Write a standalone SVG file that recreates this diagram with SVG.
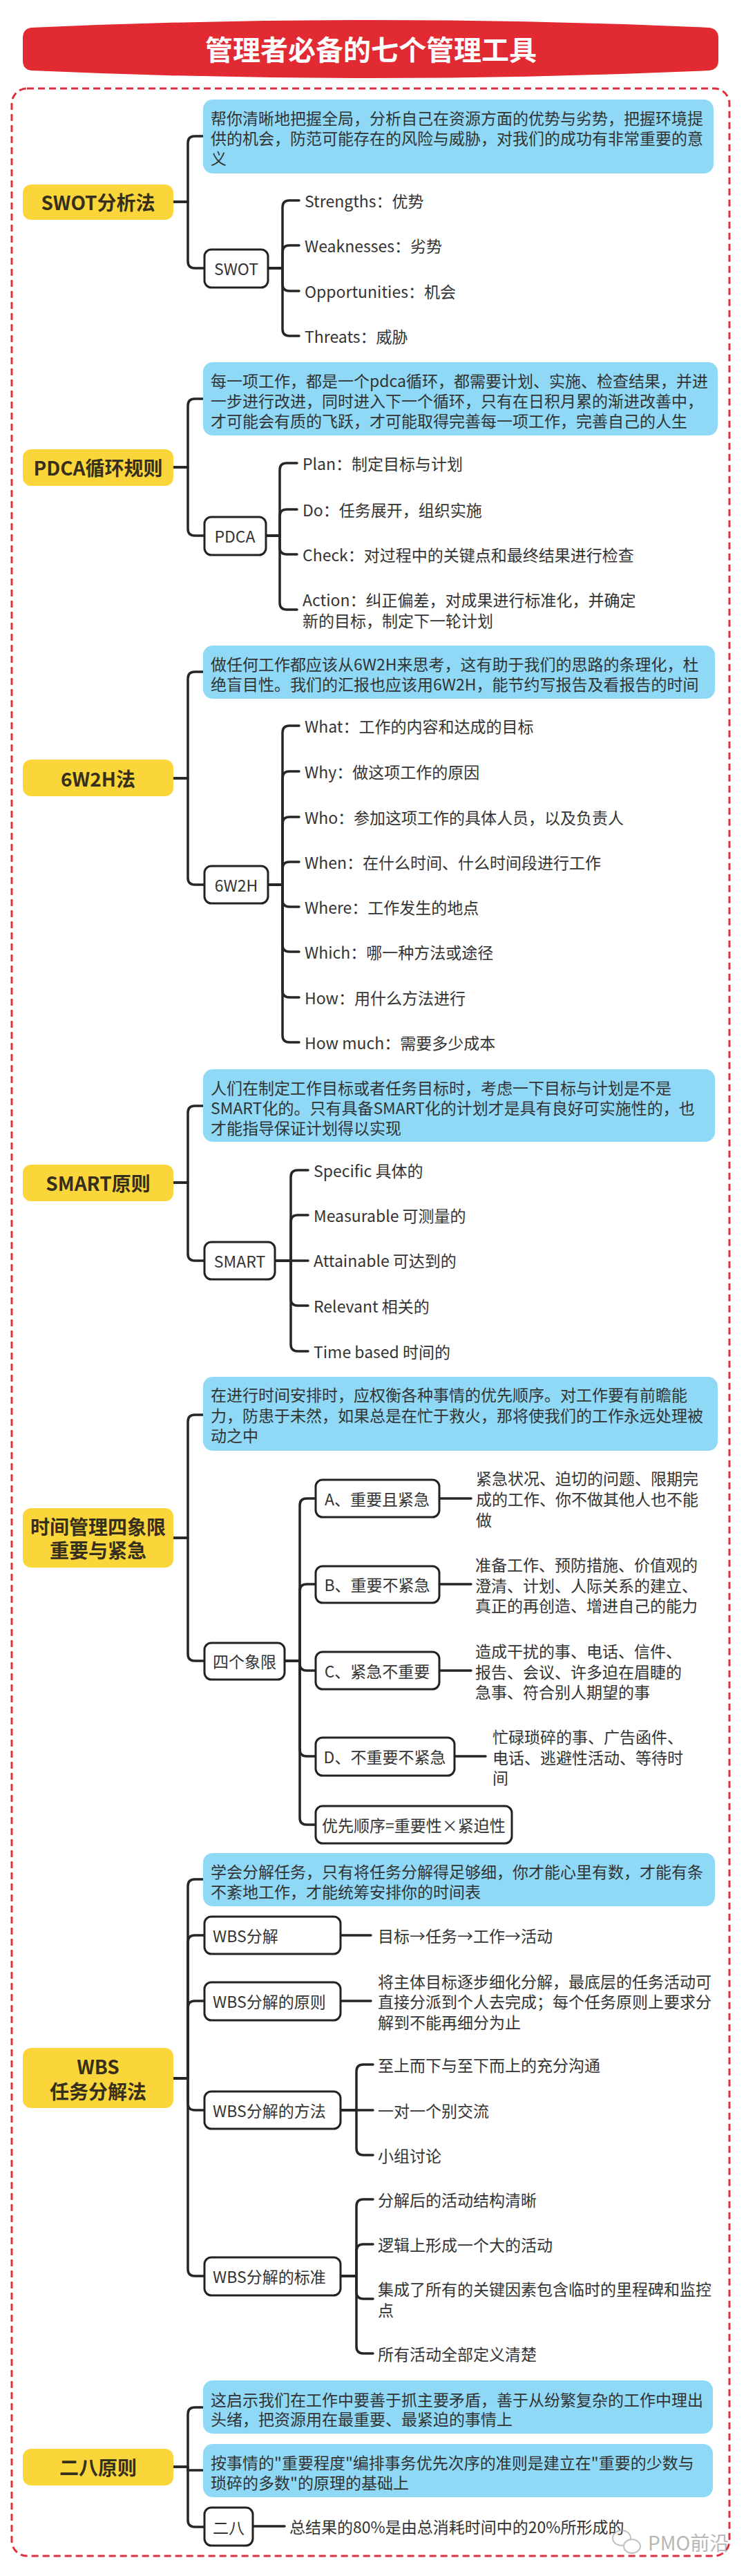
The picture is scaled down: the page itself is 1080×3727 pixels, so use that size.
<svg xmlns="http://www.w3.org/2000/svg" width="1080" height="3727" viewBox="0 0 1080 3727">
<style>
text{font-family:"Noto Sans CJK SC","Noto Sans",sans-serif;fill:#333;dominant-baseline:central}
.t{font-size:23px}
.y{fill:#fbd63b}
.yt{font-size:28px;font-weight:bold;fill:#352f1c;text-anchor:middle}
.b{fill:#8fd9f6}
.w{fill:#fff;stroke:#222;stroke-width:3}
.c{fill:none;stroke:#262626;stroke-width:3.5;stroke-linecap:round;stroke-linejoin:round}
.m{text-anchor:middle}
</style>
<rect width="1080" height="3727" fill="#fff"/>
<g id="title">
<path d="M45,40 Q540,18 1027,40 Q1040,42 1040,55 L1040,88 Q1040,100 1027,102 Q540,124 45,102 Q33,100 33,88 L33,55 Q33,42 45,40 Z" fill="#e12a31"/>
<text x="537" y="70" style="font-size:40px;font-weight:bold;fill:#fff;text-anchor:middle">管理者必备的七个管理工具</text>
</g>
<rect id="frame" x="17" y="128" width="1039" height="3570" rx="22" fill="none" stroke="#e0303c" stroke-width="3" stroke-dasharray="10 6"/>

<g id="connectors">
<path class="c" d="M251,292 H272 V207 Q272,197 282,197 H294"/>
<path class="c" d="M251,292 H272 V378 Q272,388 282,388 H296"/>
<path class="c" d="M388,388 H409 V300 Q409,290 419,290 H433"/>
<path class="c" d="M388,388 H409 V365 Q409,355 419,355 H433"/>
<path class="c" d="M388,388 H409 V411 Q409,421 419,421 H433"/>
<path class="c" d="M388,388 H409 V476 Q409,486 419,486 H433"/>

<path class="c" d="M251,676 H272 V587 Q272,577 282,577 H294"/>
<path class="c" d="M251,676 H272 V765 Q272,775 282,775 H296"/>
<path class="c" d="M385,775 H405 V680 Q405,670 415,670 H430"/>
<path class="c" d="M385,775 H405 V747 Q405,737 415,737 H430"/>
<path class="c" d="M385,775 H405 V792 Q405,802 415,802 H430"/>
<path class="c" d="M385,775 H405 V872 Q405,882 415,882 H430"/>

<path class="c" d="M251,1126 H272 V982 Q272,972 282,972 H294"/>
<path class="c" d="M251,1126 H272 V1270 Q272,1280 282,1280 H296"/>
<path class="c" d="M388,1280 H409 V1060 Q409,1050 419,1050 H433"/>
<path class="c" d="M388,1280 H409 V1126 Q409,1116 419,1116 H433"/>
<path class="c" d="M388,1280 H409 V1192 Q409,1182 419,1182 H433"/>
<path class="c" d="M388,1280 H409 V1257 Q409,1247 419,1247 H433"/>
<path class="c" d="M388,1280 H409 V1302 Q409,1312 419,1312 H433"/>
<path class="c" d="M388,1280 H409 V1367 Q409,1377 419,1377 H433"/>
<path class="c" d="M388,1280 H409 V1433 Q409,1443 419,1443 H433"/>
<path class="c" d="M388,1280 H409 V1498 Q409,1508 419,1508 H433"/>

<path class="c" d="M251,1711 H272 V1610 Q272,1600 282,1600 H294"/>
<path class="c" d="M251,1711 H272 V1814 Q272,1824 282,1824 H296"/>
<path class="c" d="M398,1824 H421 V1703 Q421,1693 431,1693 H446"/>
<path class="c" d="M398,1824 H421 V1768 Q421,1758 431,1758 H446"/>
<path class="c" d="M398,1824 H446"/>
<path class="c" d="M398,1824 H421 V1879 Q421,1889 431,1889 H446"/>
<path class="c" d="M398,1824 H421 V1945 Q421,1955 431,1955 H446"/>

<path class="c" d="M251,2225 H272 V2057 Q272,2047 282,2047 H294"/>
<path class="c" d="M251,2225 H272 V2393 Q272,2403 282,2403 H296"/>
<path class="c" d="M412,2403 H434 V2178 Q434,2168 444,2168 H457"/>
<path class="c" d="M412,2403 H434 V2302 Q434,2292 444,2292 H457"/>
<path class="c" d="M412,2403 H434 V2407 Q434,2417 444,2417 H457"/>
<path class="c" d="M412,2403 H434 V2531 Q434,2541 444,2541 H457"/>
<path class="c" d="M412,2403 H434 V2630 Q434,2640 444,2640 H457"/>
<path class="c" d="M636,2168 H682"/>
<path class="c" d="M636,2292 H682"/>
<path class="c" d="M636,2417 H682"/>
<path class="c" d="M658,2541 H703"/>

<path class="c" d="M251,3007 H272 V2729 Q272,2719 282,2719 H294"/>
<path class="c" d="M251,3007 H272 V2810 Q272,2800 282,2800 H296"/>
<path class="c" d="M251,3007 H272 V2905 Q272,2895 282,2895 H296"/>
<path class="c" d="M251,3007 H272 V3043 Q272,3053 282,3053 H296"/>
<path class="c" d="M251,3007 H272 V3283 Q272,3293 282,3293 H296"/>
<path class="c" d="M493,2800 H537"/>
<path class="c" d="M493,2895 H537"/>
<path class="c" d="M493,3053 H516 V2997 Q516,2987 526,2987 H540"/>
<path class="c" d="M493,3053 H540"/>
<path class="c" d="M493,3053 H516 V3108 Q516,3118 526,3118 H540"/>
<path class="c" d="M493,3293 H516 V3192 Q516,3182 526,3182 H540"/>
<path class="c" d="M493,3293 H516 V3257 Q516,3247 526,3247 H540"/>
<path class="c" d="M493,3293 H516 V3316 Q516,3326 526,3326 H540"/>
<path class="c" d="M493,3293 H516 V3395 Q516,3405 526,3405 H540"/>

<path class="c" d="M251,3569 H272 V3493 Q272,3483 282,3483 H294"/>
<path class="c" d="M272,3569 V3574 H294"/>
<path class="c" d="M251,3569 H272 V3646 Q272,3656 282,3656 H296"/>
<path class="c" d="M366,3655 H412"/>
</g>

<!-- Section 1 -->
<g id="swot-main"><rect class="y" x="33" y="267" width="218" height="51" rx="12"/><text class="yt" x="142" y="292">SWOT分析法</text></g>
<g id="swot-desc"><rect class="b" x="294" y="144" width="739" height="107" rx="14"/>
<text class="t" x="305" y="170">帮你清晰地把握全局，分析自己在资源方面的优势与劣势，把握环境提</text>
<text class="t" x="305" y="199">供的机会，防范可能存在的风险与威胁，对我们的成功有非常重要的意</text>
<text class="t" x="305" y="228">义</text></g>
<g id="swot-node"><rect class="w" x="296" y="361" width="92" height="55" rx="10"/><text class="t m" x="342" y="388">SWOT</text></g>
<g id="swot-s"><text class="t" x="441" y="290">Strengths：优势</text></g>
<g id="swot-w"><text class="t" x="441" y="355">Weaknesses：劣势</text></g>
<g id="swot-o"><text class="t" x="441" y="421">Opportunities：机会</text></g>
<g id="swot-t"><text class="t" x="441" y="486">Threats：威胁</text></g>

<!-- Section 2 -->
<g id="pdca-main"><rect class="y" x="33" y="650" width="218" height="53" rx="12"/><text class="yt" x="142" y="676">PDCA循环规则</text></g>
<g id="pdca-desc"><rect class="b" x="294" y="524" width="745" height="106" rx="14"/>
<text class="t" x="305" y="550">每一项工作，都是一个pdca循环，都需要计划、实施、检查结果，并进</text>
<text class="t" x="305" y="579">一步进行改进，同时进入下一个循环，只有在日积月累的渐进改善中，</text>
<text class="t" x="305" y="608">才可能会有质的飞跃，才可能取得完善每一项工作，完善自己的人生</text></g>
<g id="pdca-node"><rect class="w" x="296" y="748" width="89" height="55" rx="10"/><text class="t m" x="340" y="775">PDCA</text></g>
<g id="pdca-p"><text class="t" x="438" y="670">Plan：制定目标与计划</text></g>
<g id="pdca-d"><text class="t" x="438" y="737">Do：任务展开，组织实施</text></g>
<g id="pdca-c"><text class="t" x="438" y="802">Check：对过程中的关键点和最终结果进行检查</text></g>
<g id="pdca-a"><text class="t" x="438" y="867">Action：纠正偏差，对成果进行标准化，并确定</text><text class="t" x="438" y="897">新的目标，制定下一轮计划</text></g>

<!-- Section 3 -->
<g id="w6-main"><rect class="y" x="33" y="1099" width="218" height="53" rx="12"/><text class="yt" x="142" y="1126">6W2H法</text></g>
<g id="w6-desc"><rect class="b" x="294" y="934" width="741" height="77" rx="14"/>
<text class="t" x="305" y="960">做任何工作都应该从6W2H来思考，这有助于我们的思路的条理化，杜</text>
<text class="t" x="305" y="989">绝盲目性。我们的汇报也应该用6W2H，能节约写报告及看报告的时间</text></g>
<g id="w6-node"><rect class="w" x="296" y="1253" width="92" height="54" rx="10"/><text class="t m" x="342" y="1280">6W2H</text></g>
<g id="w6-1"><text class="t" x="441" y="1050">What：工作的内容和达成的目标</text></g>
<g id="w6-2"><text class="t" x="441" y="1116">Why：做这项工作的原因</text></g>
<g id="w6-3"><text class="t" x="441" y="1182">Who：参加这项工作的具体人员，以及负责人</text></g>
<g id="w6-4"><text class="t" x="441" y="1247">When：在什么时间、什么时间段进行工作</text></g>
<g id="w6-5"><text class="t" x="441" y="1312">Where：工作发生的地点</text></g>
<g id="w6-6"><text class="t" x="441" y="1377">Which：哪一种方法或途径</text></g>
<g id="w6-7"><text class="t" x="441" y="1443">How：用什么方法进行</text></g>
<g id="w6-8"><text class="t" x="441" y="1508">How much：需要多少成本</text></g>

<!-- Section 4 -->
<g id="smart-main"><rect class="y" x="33" y="1685" width="218" height="53" rx="12"/><text class="yt" x="142" y="1711">SMART原则</text></g>
<g id="smart-desc"><rect class="b" x="294" y="1547" width="741" height="105" rx="14"/>
<text class="t" x="305" y="1573">人们在制定工作目标或者任务目标时，考虑一下目标与计划是不是</text>
<text class="t" x="305" y="1602">SMART化的。只有具备SMART化的计划才是具有良好可实施性的，也</text>
<text class="t" x="305" y="1631">才能指导保证计划得以实现</text></g>
<g id="smart-node"><rect class="w" x="296" y="1797" width="102" height="54" rx="10"/><text class="t m" x="347" y="1824">SMART</text></g>
<g id="smart-s"><text class="t" x="454" y="1693">Specific 具体的</text></g>
<g id="smart-m"><text class="t" x="454" y="1758">Measurable 可测量的</text></g>
<g id="smart-a"><text class="t" x="454" y="1823">Attainable 可达到的</text></g>
<g id="smart-r"><text class="t" x="454" y="1889">Relevant 相关的</text></g>
<g id="smart-t"><text class="t" x="454" y="1955">Time based 时间的</text></g>

<!-- Section 5 -->
<g id="tm-main"><rect class="y" x="33" y="2182" width="218" height="86" rx="12"/><text class="yt" x="142" y="2208">时间管理四象限</text><text class="yt" x="142" y="2242">重要与紧急</text></g>
<g id="tm-desc"><rect class="b" x="294" y="1992" width="745" height="107" rx="14"/>
<text class="t" x="305" y="2017">在进行时间安排时，应权衡各种事情的优先顺序。对工作要有前瞻能</text>
<text class="t" x="305" y="2047">力，防患于未然，如果总是在忙于救火，那将使我们的工作永远处理被</text>
<text class="t" x="305" y="2076">动之中</text></g>
<g id="tm-node"><rect class="w" x="296" y="2377" width="116" height="53" rx="10"/><text class="t m" x="354" y="2403">四个象限</text></g>
<g id="tm-a"><rect class="w" x="457" y="2141" width="179" height="54" rx="10"/><text class="t m" x="546" y="2168">A、重要且紧急</text></g>
<g id="tm-a-d"><text class="t" x="689" y="2138">紧急状况、迫切的问题、限期完</text><text class="t" x="689" y="2168">成的工作、你不做其他人也不能</text><text class="t" x="689" y="2198">做</text></g>
<g id="tm-b"><rect class="w" x="457" y="2266" width="179" height="53" rx="10"/><text class="t m" x="546" y="2292">B、重要不紧急</text></g>
<g id="tm-b-d"><text class="t" x="688" y="2263">准备工作、预防措施、价值观的</text><text class="t" x="688" y="2293">澄清、计划、人际关系的建立、</text><text class="t" x="688" y="2322">真正的再创造、增进自己的能力</text></g>
<g id="tm-c"><rect class="w" x="457" y="2390" width="179" height="54" rx="10"/><text class="t m" x="546" y="2417">C、紧急不重要</text></g>
<g id="tm-c-d"><text class="t" x="688" y="2388">造成干扰的事、电话、信件、</text><text class="t" x="688" y="2418">报告、会议、许多迫在眉睫的</text><text class="t" x="688" y="2447">急事、符合别人期望的事</text></g>
<g id="tm-d"><rect class="w" x="457" y="2514" width="201" height="55" rx="10"/><text class="t m" x="557" y="2541">D、不重要不紧急</text></g>
<g id="tm-d-d"><text class="t" x="713" y="2512">忙碌琐碎的事、广告函件、</text><text class="t" x="713" y="2542">电话、逃避性活动、等待时</text><text class="t" x="713" y="2571">间</text></g>
<g id="tm-p"><rect class="w" x="457" y="2613" width="284" height="54" rx="10"/><text class="t m" x="599" y="2640">优先顺序=重要性×紧迫性</text></g>

<!-- Section 6 -->
<g id="wbs-main"><rect class="y" x="33" y="2963" width="218" height="87" rx="12"/><text class="yt" x="142" y="2989">WBS</text><text class="yt" x="142" y="3025">任务分解法</text></g>
<g id="wbs-desc"><rect class="b" x="294" y="2681" width="741" height="77" rx="14"/>
<text class="t" x="305" y="2707">学会分解任务，只有将任务分解得足够细，你才能心里有数，才能有条</text>
<text class="t" x="305" y="2736">不紊地工作，才能统筹安排你的时间表</text></g>
<g id="wbs-1"><rect class="w" x="296" y="2773" width="197" height="54" rx="10"/><text class="t" x="308" y="2800">WBS分解</text></g>
<g id="wbs-1-d"><text class="t" x="547" y="2800">目标→任务→工作→活动</text></g>
<g id="wbs-2"><rect class="w" x="296" y="2868" width="197" height="55" rx="10"/><text class="t" x="308" y="2895">WBS分解的原则</text></g>
<g id="wbs-2-d"><text class="t" x="547" y="2866">将主体目标逐步细化分解，最底层的任务活动可</text><text class="t" x="547" y="2895">直接分派到个人去完成；每个任务原则上要求分</text><text class="t" x="547" y="2925">解到不能再细分为止</text></g>
<g id="wbs-3"><rect class="w" x="296" y="3026" width="197" height="54" rx="10"/><text class="t" x="308" y="3053">WBS分解的方法</text></g>
<g id="wbs-3-a"><text class="t" x="547" y="2987">至上而下与至下而上的充分沟通</text></g>
<g id="wbs-3-b"><text class="t" x="547" y="3053">一对一个别交流</text></g>
<g id="wbs-3-c"><text class="t" x="547" y="3118">小组讨论</text></g>
<g id="wbs-4"><rect class="w" x="296" y="3266" width="197" height="55" rx="10"/><text class="t" x="308" y="3293">WBS分解的标准</text></g>
<g id="wbs-4-a"><text class="t" x="547" y="3182">分解后的活动结构清晰</text></g>
<g id="wbs-4-b"><text class="t" x="547" y="3247">逻辑上形成一个大的活动</text></g>
<g id="wbs-4-c"><text class="t" x="547" y="3311">集成了所有的关键因素包含临时的里程碑和监控</text><text class="t" x="547" y="3341">点</text></g>
<g id="wbs-4-d"><text class="t" x="547" y="3405">所有活动全部定义清楚</text></g>

<!-- Section 7 -->
<g id="p28-main"><rect class="y" x="33" y="3543" width="218" height="53" rx="12"/><text class="yt" x="142" y="3569">二八原则</text></g>
<g id="p28-desc1"><rect class="b" x="294" y="3444" width="738" height="77" rx="14"/>
<text class="t" x="305" y="3471">这启示我们在工作中要善于抓主要矛盾，善于从纷繁复杂的工作中理出</text>
<text class="t" x="305" y="3499">头绪，把资源用在最重要、最紧迫的事情上</text></g>
<g id="p28-desc2"><rect class="b" x="294" y="3536" width="738" height="77" rx="14"/>
<text class="t" x="305" y="3562">按事情的"重要程度"编排事务优先次序的准则是建立在"重要的少数与</text>
<text class="t" x="305" y="3591">琐碎的多数"的原理的基础上</text></g>
<g id="p28-node"><rect class="w" x="296" y="3628" width="70" height="55" rx="10"/><text class="t m" x="331" y="3656">二八</text></g>
<g id="p28-d"><text class="t" x="419" y="3655">总结果的80%是由总消耗时间中的20%所形成的</text></g>

<g id="watermark" opacity="0.6">
<ellipse cx="900" cy="3672" rx="13" ry="11" fill="none" stroke="#999" stroke-width="2"/>
<ellipse cx="915" cy="3684" rx="12" ry="10" fill="#fff" stroke="#999" stroke-width="2"/>
<text x="938" y="3678" style="font-size:28px;fill:#888">PMO前沿</text>
</g>
</svg>
